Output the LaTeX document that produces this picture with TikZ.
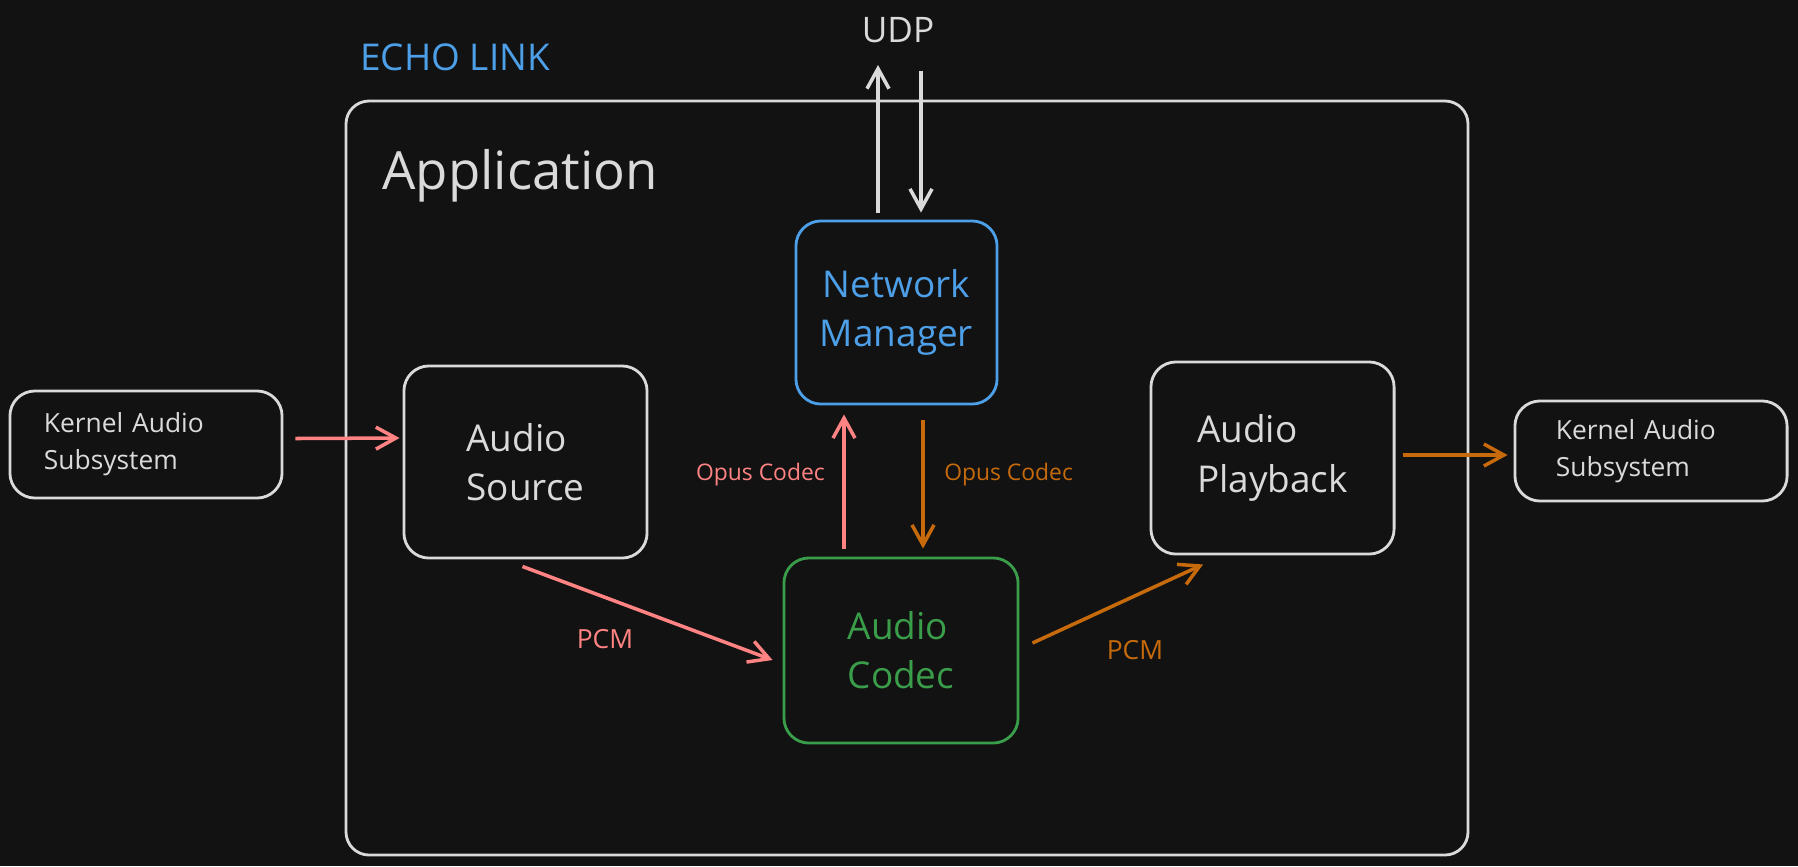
\documentclass[tikz,border=0pt]{standalone}
\usepackage{xcolor}
\usepackage{fontspec}
\setmainfont{Open Sans}
\usetikzlibrary{arrows.meta}

\definecolor{bgdark}{HTML}{121212}
\definecolor{chalk}{HTML}{DADADA}
\definecolor{linkred}{HTML}{FF8383}
\definecolor{linkorange}{HTML}{C66A0B}
\definecolor{codecgreen}{HTML}{3A9D4A}
\definecolor{netblue}{HTML}{4D9FE8}

\tikzset{
  block/.style={draw=chalk, line width=0.8pt, rounded corners=0.25cm, text=chalk,
    font=\fontsize{10.5}{14}\selectfont, align=left, inner sep=0pt},
  kernelbox/.style={block, font=\fontsize{7.5}{10.5}\selectfont},
  tag/.style={font=\fontsize{6.5}{8}\selectfont, inner sep=1pt},
  flow/.style={->, line width=1pt},
}

\begin{document}
\begin{tikzpicture}[x=0.01cm, y=-0.01cm, >={Straight Barb[length=0.2cm, width=0.22cm]}]
\useasboundingbox (0,0) rectangle (1798,866);
\fill[bgdark] (0,0) rectangle (1798,866);
%==================== Cornice applicazione ==================
\draw[chalk, line width=0.8pt, rounded corners=0.23cm] (346,101) rectangle (1468,855);
\node[anchor=west, text=netblue, font=\fontsize{10.5}{12}\selectfont] (echo) at (348,57) {ECHO LINK};
\node[anchor=west, text=chalk, font=\fontsize{15}{18}\selectfont] (app) at (370,176) {Application};
\node[text=chalk, font=\fontsize{10}{12}\selectfont] (udp) at (898,30) {UDP};
%==================== Blocchi ==================
\node[block, draw=netblue, text=netblue, align=center, minimum width=2.01cm, minimum height=1.83cm] (net) at (896.5,312.5) {Network\\Manager};
\node[block, minimum width=2.43cm, minimum height=1.92cm] (src) at (525.5,462) {Audio\\Source};
\node[block, draw=codecgreen, text=codecgreen, minimum width=2.34cm, minimum height=1.85cm] (codec) at (901,650.5) {Audio\\Codec};
\node[block, minimum width=2.43cm, minimum height=1.92cm] (play) at (1272.5,458) {Audio\\Playback};
\node[kernelbox, text width=2.04cm, minimum width=2.72cm, minimum height=1.07cm] (kin) at (146,444.5) {Kernel Audio\\Subsystem};
\node[kernelbox, text width=1.9cm, minimum width=2.72cm, minimum height=1.0cm] (kout) at (1651,451) {Kernel Audio\\Subsystem};
%==================== Frecce UDP ==================
\coordinate (udpup) at (878,65);
\coordinate (udpdown) at (921,71);
\draw[flow, chalk] ([shift={(-18.5,-7)}]net.north) -- (udpup);
\draw[flow, chalk] (udpdown) -- ([shift={(24.5,-7)}]net.north);
%==================== Percorso di cattura ==================
\draw[flow, linkred] ([shift={(12,-6)}]kin.east) -- ([shift={(-3,-24)}]src.west);
\draw[flow, linkred] ([shift={(-3,7)}]src.south) -- ([shift={(-10,9.5)}]codec.west);
\node[tag, text=linkred, font=\fontsize{7.5}{9}\selectfont] (pcmin) at (605,639) {PCM};
\draw[flow, linkred] ([shift={(-57,-8)}]codec.north) -- ([shift={(-52.5,9)}]net.south)
  node[tag, text=linkred, pos=0.55, left=0.14cm] (opusout) {Opus Codec};
%==================== Percorso di riproduzione ==================
\draw[flow, linkorange] ([shift={(26.5,15)}]net.south) -- ([shift={(22,-8)}]codec.north)
  node[tag, text=linkorange, pos=0.42, right=0.16cm] (opusin) {Opus Codec};
\draw[flow, linkorange] ([shift={(13,-7.5)}]codec.east) -- ([shift={(-69.5,9)}]play.south);
\node[tag, text=linkorange, font=\fontsize{7.5}{9}\selectfont] (pcmout) at (1135,650) {PCM};
\draw[flow, linkorange] ([shift={(7,-3)}]play.east) -- ([shift={(-6,4)}]kout.west);
\end{tikzpicture}
\end{document}
